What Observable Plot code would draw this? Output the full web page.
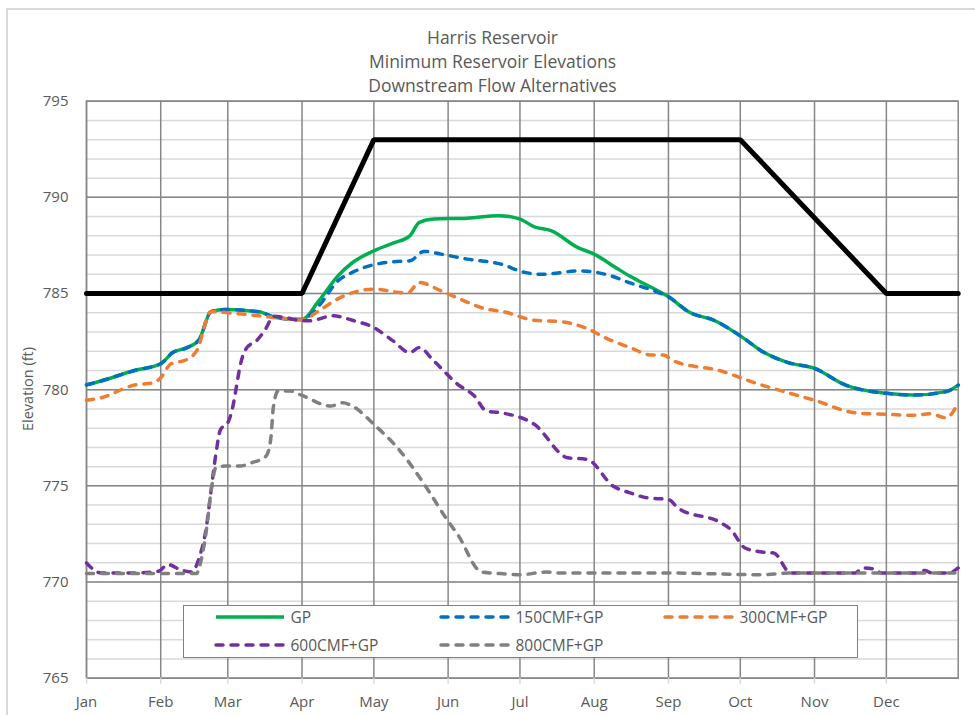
<!DOCTYPE html>
<html>
<head>
<meta charset="utf-8">
<script src="https://cdn.jsdelivr.net/npm/d3@7"></script>
<script src="https://cdn.jsdelivr.net/npm/@observablehq/plot@0.6"></script>
<style>
  html, body { margin: 0; padding: 0; background: #fff; }
  #wrap { position: relative; width: 975px; height: 715px; overflow: hidden; font-family: "Open Sans", "Noto Sans", sans-serif; color: #595959; }
  #outer { position: absolute; left: 6px; top: 8px; width: 1100px; height: 900px; border: 2px solid #d9d9d9; box-sizing: border-box; }
  #title { position: absolute; left: 0; top: 25px; width: 985px; text-align: center; font-size: 17.5px; line-height: 24px; }
  #ylabel { position: absolute; left: 27px; top: 389px; transform: translate(-50%, -50%) rotate(-90deg); font-size: 14.5px; white-space: nowrap; }
  #chart { position: absolute; left: 0; top: 0; }
  #legend { position: absolute; left: 183px; top: 605px; width: 675px; height: 53px; border: 1.5px solid #7f7f7f; background: #fff; box-sizing: border-box; }
  .item { position: absolute; display: flex; align-items: center; font-size: 15.5px; white-space: nowrap; }
  .item svg { margin-right: 5px; }
</style>
</head>
<body>
<div id="wrap">
  <div id="outer"></div>
  <div id="chart"></div>
  <div id="title">Harris Reservoir<br>Minimum Reservoir Elevations<br>Downstream Flow Alternatives</div>
  <div id="ylabel">Elevation (ft)</div>
  <div id="legend"></div>
</div>
<script>
// ---- data ----
const seriesNames = ["GP", "150CMF+GP", "300CMF+GP", "600CMF+GP", "800CMF+GP"];
const seriesColors = ["#00b050", "#0070c0", "#ed7d31", "#7030a0", "#808080"];

const gpDates = ["01-01","01-07","01-21","02-01","02-06","02-12","02-17","02-22","02-28","03-14","03-21","04-01","04-08","04-16","04-22","05-01","05-09","05-16","05-20","05-26","06-09","06-22","07-01","07-07","07-14","07-25","08-01","08-11","08-16","08-25","09-01","09-10","09-20","10-01","10-11","10-21","11-01","11-14","12-01","12-12","12-26","12-31"];
const gpElev = [780.25,780.45,781.0,781.35,781.93,782.19,782.6,784.06,784.17,784.05,783.75,783.65,784.62,785.92,786.6,787.22,787.62,788.0,788.7,788.87,788.92,789.05,788.87,788.47,788.27,787.4,787.05,786.27,785.9,785.31,784.83,784.01,783.61,782.8,781.93,781.41,781.11,780.24,779.81,779.72,779.9,780.24];

const cmf150Dates = ["01-01","01-07","01-21","02-01","02-06","02-12","02-17","02-22","02-28","03-14","03-21","04-01","04-08","04-16","04-22","05-01","05-09","05-16","05-22","05-29","06-09","06-23","07-03","07-10","07-26","08-08","08-16","08-26","09-01","09-10","09-20","10-01","10-11","10-21","11-01","11-14","12-01","12-12","12-26","12-31"];
const cmf150Elev = [780.25,780.45,781.0,781.35,781.93,782.19,782.6,784.06,784.17,784.05,783.75,783.65,784.36,785.66,786.1,786.5,786.65,786.7,787.19,787.05,786.79,786.53,786.1,786.0,786.18,785.92,785.55,785.14,784.83,784.01,783.61,782.8,781.93,781.41,781.11,780.24,779.81,779.72,779.9,780.24];

const cmf300Dates = ["01-01","01-07","01-21","01-29","02-01","02-05","02-12","02-16","02-22","03-01","03-21","04-01","04-08","04-17","05-01","05-15","05-20","05-29","06-06","06-17","06-24","07-07","07-18","07-28","08-07","08-16","08-25","08-30","09-03","09-23","10-07","10-21","11-01","11-18","12-01","12-13","12-19","12-26","12-31"];
const cmf300Elev = [779.45,779.58,780.24,780.36,780.62,781.32,781.58,782.02,784.06,784.0,783.75,783.62,784.1,784.79,785.23,785.02,785.57,785.14,784.71,784.19,784.06,783.61,783.54,783.23,782.62,782.19,781.8,781.8,781.5,780.97,780.36,779.84,779.45,778.8,778.72,778.67,778.75,778.54,779.32];

const cmf600Dates = ["01-01","01-07","01-21","01-31","02-04","02-09","02-14","02-17","02-20","02-22","02-24","02-26","03-01","03-03","03-05","03-06","03-09","03-13","03-17","03-20","03-25","04-01","04-04","04-14","04-22","05-01","05-09","05-16","05-20","05-26","06-05","06-12","06-17","06-23","07-07","07-21","07-29","08-09","08-16","08-23","09-01","09-05","09-23","09-27","10-03","10-10","10-15","10-22","11-18","11-21","11-26","11-29","12-13","12-17","12-20","12-27","12-31"];
const cmf600Elev = [770.99,770.47,770.47,770.56,770.91,770.65,770.52,771.25,772.81,774.72,776.64,777.94,778.28,779.06,780.45,781.15,782.19,782.54,783.2,783.82,783.75,783.58,783.58,783.84,783.61,783.23,782.54,781.93,782.19,781.5,780.28,779.67,778.89,778.8,778.2,776.46,776.38,774.98,774.64,774.38,774.29,773.85,773.07,772.73,771.77,771.56,771.51,770.47,770.47,770.73,770.68,770.47,770.47,770.6,770.47,770.47,770.73];

const cmf800Dates = ["01-01","02-16","02-17","02-20","02-22","02-24","02-28","03-06","03-11","03-17","03-19","03-20","03-22","03-27","04-01","04-13","04-18","04-22","05-01","05-12","05-23","06-01","06-05","06-15","06-23","07-01","07-12","07-18","09-01","10-10","10-22","12-31"];
const cmf800Elev = [770.44,770.44,770.73,772.64,774.72,775.94,776.03,776.03,776.2,776.55,777.5,779.06,779.93,779.93,779.7,779.15,779.32,779.15,778.2,776.81,774.9,773.16,772.47,770.52,770.44,770.38,770.52,770.47,770.47,770.38,770.47,770.47];

const ruleDates = ["01-01","04-01","05-01","10-01","12-01","12-31"];
const ruleElev = [785,785,793,793,785,785];

const yTicks = [765, 770, 775, 780, 785, 790, 795];

// ---- build ----
const parse = d3.utcParse("%Y-%m-%d");
const toDate = s => parse("2021-" + s);
const mk = (name, dates, vals) => dates.map((d, i) => ({series: name, date: toDate(d), elev: vals[i]}));

const gpData = mk("GP", gpDates, gpElev);
const d150 = mk("150CMF+GP", cmf150Dates, cmf150Elev);
const d300 = mk("300CMF+GP", cmf300Dates, cmf300Elev);
const d600 = mk("600CMF+GP", cmf600Dates, cmf600Elev);
const d800 = mk("800CMF+GP", cmf800Dates, cmf800Elev);
const ruleData = mk("rule", ruleDates, ruleElev);

const x0 = toDate("01-01"), x1 = toDate("12-31");
const months = d3.utcMonths(x0, x1);
const minorY = d3.range(yTicks[0], yTicks[yTicks.length - 1] + 1, 1);
const dash = "7,8";

const chart = Plot.plot({
  width: 975,
  height: 715,
  marginTop: 100.7,
  marginBottom: 37.3,
  marginLeft: 86,
  marginRight: 17.3,
  style: {fontFamily: "'Open Sans', 'Noto Sans', sans-serif", fontSize: "15px", color: "#595959", background: "transparent", overflow: "visible"},
  x: {type: "utc", domain: [x0, x1]},
  y: {domain: [yTicks[0], yTicks[yTicks.length - 1]]},
  marks: [
    Plot.gridY(minorY, {stroke: "#d9d9d9", strokeOpacity: 1, strokeWidth: 1.5}),
    Plot.gridY(yTicks, {stroke: "#878787", strokeOpacity: 1, strokeWidth: 1.5}),
    Plot.gridX(months, {stroke: "#878787", strokeOpacity: 1, strokeWidth: 1.5}),
    Plot.frame({stroke: "#878787", strokeWidth: 1.5}),
    Plot.axisY(yTicks, {tickSize: 0, tickPadding: 18, label: null, fill: "#595959", fontSize: 15}),
    Plot.axisX(months, {tickSize: 6, stroke: "#d9d9d9", strokeWidth: 1.5, tickPadding: 12, label: null, fill: "#595959", fontSize: 15, tickFormat: d3.utcFormat("%b")}),
    Plot.line(gpData, {x: "date", y: "elev", stroke: seriesColors[0], strokeWidth: 3.5, curve: "monotone-x"}),
    Plot.line(d150, {x: "date", y: "elev", stroke: seriesColors[1], strokeWidth: 3.5, strokeDasharray: dash, strokeLinecap: "round", curve: "monotone-x"}),
    Plot.line(d300, {x: "date", y: "elev", stroke: seriesColors[2], strokeWidth: 3.5, strokeDasharray: dash, strokeLinecap: "round", curve: "monotone-x"}),
    Plot.line(d600, {x: "date", y: "elev", stroke: seriesColors[3], strokeWidth: 3.5, strokeDasharray: dash, strokeLinecap: "round", curve: "monotone-x"}),
    Plot.line(d800, {x: "date", y: "elev", stroke: seriesColors[4], strokeWidth: 3.5, strokeDasharray: dash, strokeLinecap: "round", curve: "monotone-x"}),
    Plot.line(ruleData, {x: "date", y: "elev", stroke: "#000", strokeWidth: 5, strokeLinejoin: "miter"})
  ]
});
document.getElementById("chart").appendChild(chart);

// ---- legend ----
const legend = document.getElementById("legend");
const cols = [31, 256, 480];
const rows = [12.7, 40];
seriesNames.forEach((name, i) => {
  const r = Math.floor(i / 3), c = i % 3;
  const it = document.createElement("div");
  it.className = "item";
  it.style.left = (cols[c] - 1.5) + "px";
  it.style.top = (rows[r] - 11 - 1.5) + "px";
  it.style.height = "22px";
  const dashed = i > 0;
  it.innerHTML = `<svg width="72" height="10"><line x1="2" y1="5" x2="70" y2="5" stroke="${seriesColors[i]}" stroke-width="3.5" ${dashed ? `stroke-dasharray="${dash}" stroke-linecap="round"` : ""}/></svg><span>${name}</span>`;
  legend.appendChild(it);
});
</script>
</body>
</html>
